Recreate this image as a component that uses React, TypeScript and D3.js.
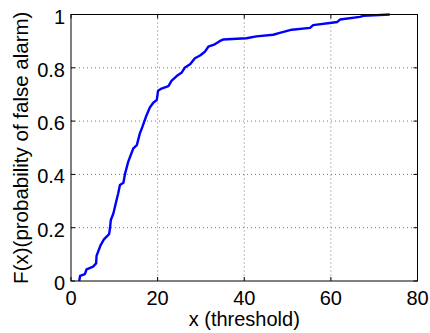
import React from "react";
import * as d3 from "d3";

const xs = [1.9, 2.1, 3.2, 3.6, 5.1, 5.8, 5.9, 6.85, 7.6, 8.8, 9.0, 9.2, 9.8, 10.15, 10.9, 11.3, 12.1, 12.5, 13.2, 14.4, 15.2, 15.9, 16.5, 17.3, 18.2, 19.0, 19.8, 20.1, 20.9, 22.5, 23.2, 24.4, 25.5, 26.3, 27.5, 28.6, 29.8, 30.9, 31.7, 33.2, 34.4, 35.1, 40.5, 42.8, 46.7, 48.2, 51.0, 55.2, 55.9, 60.2, 61.5, 62.1, 66.7, 67.5, 73.6];
const ys = [0, 0.019, 0.026, 0.044, 0.054, 0.066, 0.094, 0.135, 0.156, 0.176, 0.197, 0.229, 0.254, 0.279, 0.329, 0.36, 0.369, 0.404, 0.447, 0.498, 0.51, 0.554, 0.579, 0.616, 0.651, 0.669, 0.679, 0.714, 0.722, 0.731, 0.751, 0.769, 0.781, 0.801, 0.813, 0.836, 0.846, 0.86, 0.879, 0.888, 0.901, 0.906, 0.911, 0.918, 0.924, 0.931, 0.943, 0.95, 0.96, 0.969, 0.972, 0.981, 0.991, 0.995, 1.0];
const xTicks = [0, 20, 40, 60, 80];
const yTicks = [0, 0.2, 0.4, 0.6, 0.8, 1];
const yTickLabels = ["0", "0.2", "0.4", "0.6", "0.8", "1"];
const xLabel = "x (threshold)";
const yLabel = "F(x)(probability of false alarm)";

const W = 430;
const H = 333;
const L = 71;
const R = 417.5;
const T = 14.5;
const B = 281;

export default function App() {
  const x = d3.scaleLinear().domain([0, 80]).range([L, R]);
  const y = d3.scaleLinear().domain([0, 1]).range([B, T]);
  const pts: [number, number][] = xs.map((v, i) => [v, ys[i]]);
  const line = d3
    .line<[number, number]>()
    .x((d) => x(d[0]))
    .y((d) => y(d[1]));
  const font = "'Liberation Sans', Arial, Helvetica, sans-serif";
  const tl = 4;
  return (
    <svg
      width={W}
      height={H}
      style={{ position: "absolute", left: 0, top: 0, background: "#fff" }}
      fontFamily={font}
    >
      <rect x={0} y={0} width={W} height={H} fill="#fff" />
      {xTicks.slice(1, -1).map((t) => (
        <line key={"gx" + t} x1={x(t)} x2={x(t)} y1={T} y2={B} stroke="#777" strokeWidth={1} strokeDasharray="1,3" />
      ))}
      {yTicks.slice(1, -1).map((t) => (
        <line key={"gy" + t} x1={L} x2={R} y1={y(t)} y2={y(t)} stroke="#777" strokeWidth={1} strokeDasharray="1,3" />
      ))}
      {xTicks.map((t) => (
        <g key={"tx" + t}>
          <line x1={x(t)} x2={x(t)} y1={B} y2={B - tl} stroke="#000" />
          <line x1={x(t)} x2={x(t)} y1={T} y2={T + tl} stroke="#000" />
          <text x={x(t)} y={305} fontSize={20} textAnchor="middle" fill="#000">
            {t}
          </text>
        </g>
      ))}
      {yTicks.map((t, i) => (
        <g key={"ty" + t}>
          <line x1={L} x2={L + tl} y1={y(t)} y2={y(t)} stroke="#000" />
          <line x1={R} x2={R - tl} y1={y(t)} y2={y(t)} stroke="#000" />
          <text x={65} y={y(t) + 9} fontSize={20} textAnchor="end" fill="#000">
            {yTickLabels[i]}
          </text>
        </g>
      ))}
      <path d={line(pts) || ""} fill="none" stroke="#0000ff" strokeWidth={2.4} strokeLinejoin="round" />
      <rect x={L} y={T} width={R - L} height={B - T} fill="none" stroke="#000" strokeWidth={1} />
      <text x={(L + R) / 2} y={326} fontSize={20} textAnchor="middle" fill="#000">
        {xLabel}
      </text>
      <text
        transform={`translate(27.5, ${(T + B) / 2}) rotate(-90)`}
        fontSize={20.5}
        textAnchor="middle"
        fill="#000"
      >
        {yLabel}
      </text>
    </svg>
  );
}
